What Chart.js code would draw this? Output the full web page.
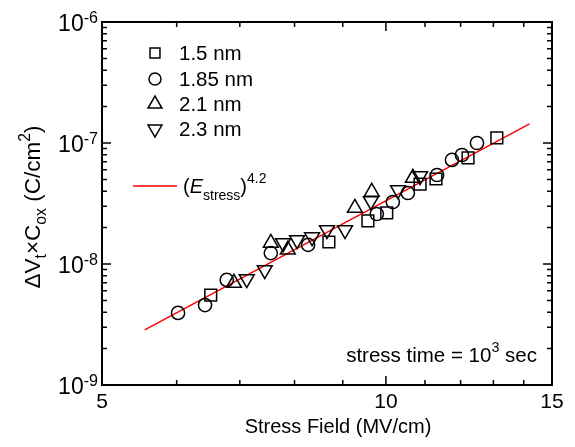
<!DOCTYPE html>
<html>
<head>
<meta charset="utf-8">
<script src="https://cdn.jsdelivr.net/npm/chart.js@4.4.0/dist/chart.umd.min.js"></script>
<style>
html, body { margin: 0; padding: 0; background: #fff; }
</style>
</head>
<body>
<canvas id="c" width="575" height="447"></canvas>
<script>
// --- data ---
const sqX = [6.52, 8.70, 9.57, 10.02, 10.87, 11.30, 12.22, 13.11];
const sqY = [5.54e-9, 1.52e-8, 2.27e-8, 2.64e-8, 4.58e-8, 5.04e-8, 7.52e-8, 1.10e-7];

const circX = [6.02, 6.43, 6.78, 7.55, 8.27, 9.78, 10.17, 10.55, 11.33, 11.75, 12.04, 12.49];
const circY = [3.94e-9, 4.58e-9, 7.38e-9, 1.23e-8, 1.44e-8, 2.59e-8, 3.25e-8, 3.86e-8, 5.44e-8, 7.24e-8, 7.96e-8, 1.0e-7];

const upX = [6.90, 7.55, 7.87, 9.27, 9.66, 10.68];
const upY = [6.97e-9, 1.49e-8, 1.31e-8, 2.90e-8, 3.94e-8, 5.14e-8];

const downX = [7.12, 7.44, 7.78, 8.05, 8.35, 8.66, 9.05, 9.64, 10.30, 10.87];
const downY = [7.52e-9, 8.92e-9, 1.49e-8, 1.58e-8, 1.67e-8, 1.91e-8, 1.91e-8, 3.32e-8, 4.09e-8, 5.34e-8];

// fitted power law line (end points)
const fitX = [5.55, 14.2];
const fitY = [2.85e-9, 1.44e-7];

const seriesNames = ['1.5 nm', '1.85 nm', '2.1 nm', '2.3 nm'];

// axes
const xTickValues = [5, 10, 15];
const xTickLabels = ['5', '10', '15'];
const xMinorTicks = [6, 7, 8, 9, 11, 12, 13, 14];
const yTickValues = [1e-9, 1e-8, 1e-7, 1e-6];
const yTickExps = ['-9', '-8', '-7', '-6'];

const FONT = '"Liberation Sans", Arial, Helvetica, sans-serif';
const toPts = (xs, ys) => xs.map((x, i) => ({ x: x, y: ys[i] }));

function font(size, italic) {
    return (italic ? 'italic ' : '') + size + 'px ' + FONT;
}

// parts: [text, style] with style '', 'i', 'sub', 'sup'
function partSize(s, size) {
    return (s === 'sub' || s === 'sup') ? size * 0.7 : size;
}
function measureRich(ctx, parts, size) {
    let w = 0;
    parts.forEach(([t, s]) => {
        ctx.font = font(partSize(s, size), s === 'i');
        w += ctx.measureText(t).width;
    });
    return w;
}
function drawRich(ctx, parts, x, y, size, align, supDy, subDy) {
    const w = measureRich(ctx, parts, size);
    let cx = align === 'center' ? x - w / 2 : (align === 'right' ? x - w : x);
    ctx.textAlign = 'left';
    ctx.textBaseline = 'alphabetic';
    parts.forEach(([t, s]) => {
        ctx.font = font(partSize(s, size), s === 'i');
        let dy = 0;
        if (s === 'sub') dy = subDy !== undefined ? subDy : size * 0.32;
        if (s === 'sup') dy = supDy !== undefined ? supDy : -size * 0.42;
        ctx.fillText(t, cx, y + dy);
        cx += ctx.measureText(t).width;
    });
}

const markerStyles = [
    { pointStyle: 'rect', radius: 8.3, rotation: 0, legendR: 7 },
    { pointStyle: 'circle', radius: 6.6, rotation: 0, legendR: 6 },
    { pointStyle: 'triangle', radius: 8.6, rotation: 0, legendR: 8 },
    { pointStyle: 'triangle', radius: 8.6, rotation: 180, legendR: 8 }
];

function markerSet(label, pts, st) {
    return {
        type: 'scatter',
        label: label,
        data: pts,
        pointStyle: st.pointStyle,
        pointRadius: st.radius,
        pointRotation: st.rotation,
        pointBorderColor: '#000',
        pointBackgroundColor: 'rgba(0,0,0,0)',
        pointBorderWidth: 1.5,
        showLine: false
    };
}

// frame, inward ticks, labels, legend, notes
const decorPlugin = {
    id: 'decor',
    afterDraw(chart) {
        const ctx = chart.ctx;
        const a = chart.chartArea;
        const xs = chart.scales.x, ys = chart.scales.y;
        ctx.save();
        ctx.strokeStyle = '#000';
        ctx.fillStyle = '#000';

        // frame
        ctx.lineWidth = 2;
        ctx.strokeRect(a.left, a.top, a.right - a.left, a.bottom - a.top);

        // x ticks (bottom + top)
        ctx.lineWidth = 1.5;
        const xTick = (v, len) => {
            const px = xs.getPixelForValue(v);
            ctx.beginPath();
            ctx.moveTo(px, a.bottom); ctx.lineTo(px, a.bottom - len);
            ctx.moveTo(px, a.top); ctx.lineTo(px, a.top + len);
            ctx.stroke();
        };
        xMinorTicks.forEach(v => xTick(v, 5));
        xTickValues.forEach(v => xTick(v, 9));

        // y ticks (left + right)
        const yTick = (v, len) => {
            const py = ys.getPixelForValue(v);
            ctx.beginPath();
            ctx.moveTo(a.left, py); ctx.lineTo(a.left + len, py);
            ctx.moveTo(a.right, py); ctx.lineTo(a.right - len, py);
            ctx.stroke();
        };
        yTickValues.forEach((v, i) => {
            yTick(v, 9);
            if (i < yTickValues.length - 1) {
                for (let m = 2; m <= 9; m++) yTick(v * m, 5);
            }
        });

        // x tick labels
        ctx.font = font(21);
        ctx.textAlign = 'center';
        ctx.textBaseline = 'middle';
        xTickValues.forEach((v, i) => {
            ctx.fillText(xTickLabels[i], xs.getPixelForValue(v), a.bottom + 17);
        });

        // y tick labels
        yTickValues.forEach((v, i) => {
            const py = ys.getPixelForValue(v);
            drawRich(ctx, [['10', ''], [yTickExps[i], 'sup']], a.left - 4, py + 9, 23, 'right', -8);
        });

        // axis titles
        ctx.font = font(20);
        ctx.textAlign = 'center';
        ctx.textBaseline = 'middle';
        ctx.fillText('Stress Field (MV/cm)', 338, 427);

        ctx.save();
        ctx.translate(33, 207);
        ctx.rotate(-Math.PI / 2);
        drawRich(ctx, [['\u0394V', ''], ['t', 'sub'], ['\u00d7C', ''], ['ox', 'sub'], [' (C/cm', ''], ['2', 'sup'], [')', '']],
            0, 7, 22.5, 'center', -10, 6);
        ctx.restore();

        // legend: markers
        const lx = a.left + 53;
        const rows = [53, 79, 104, 129];
        chart.data.datasets.slice(0, 4).forEach((ds, i) => {
            const st = markerStyles[i];
            ctx.lineWidth = 1.5;
            ctx.strokeStyle = '#000';
            ctx.fillStyle = 'rgba(0,0,0,0)';
            Chart.helpers.drawPoint(ctx, {
                pointStyle: st.pointStyle, radius: st.legendR, rotation: st.rotation, borderWidth: 1.5
            }, lx, rows[i]);
            ctx.fillStyle = '#000';
            ctx.font = font(20.5);
            ctx.textAlign = 'left';
            ctx.textBaseline = 'middle';
            ctx.fillText(ds.label, a.left + 77, rows[i] + 1);
        });

        // legend: fit line
        ctx.strokeStyle = '#ff0000';
        ctx.lineWidth = 1.5;
        ctx.beginPath();
        ctx.moveTo(a.left + 31, 186);
        ctx.lineTo(a.left + 75, 186);
        ctx.stroke();
        ctx.fillStyle = '#000';
        drawRich(ctx, [['(', ''], ['E', 'i'], ['stress', 'sub'], [')', ''], ['4.2', 'sup']],
            a.left + 81, 193, 20, 'left', -10, 7);

        // stress time note
        drawRich(ctx, [['stress time = 10', ''], ['3', 'sup'], [' sec', '']],
            a.right - 15, 362, 20.5, 'right', -10);

        ctx.restore();
    }
};

new Chart(document.getElementById('c'), {
    data: {
        datasets: [
            markerSet(seriesNames[0], toPts(sqX, sqY), markerStyles[0]),
            markerSet(seriesNames[1], toPts(circX, circY), markerStyles[1]),
            markerSet(seriesNames[2], toPts(upX, upY), markerStyles[2]),
            markerSet(seriesNames[3], toPts(downX, downY), markerStyles[3]),
            {
                type: 'line',
                label: 'fit',
                data: toPts(fitX, fitY),
                borderColor: '#ff0000',
                borderWidth: 1.5,
                pointRadius: 0,
                fill: false,
                tension: 0
            }
        ]
    },
    options: {
        responsive: false,
        animation: false,
        devicePixelRatio: 1,
        layout: { autoPadding: false, padding: { left: 102, right: 23, top: 22, bottom: 62 } },
        plugins: { legend: { display: false }, tooltip: { enabled: false } },
        scales: {
            x: {
                type: 'logarithmic', min: 5, max: 15,
                grid: { display: false }, border: { display: false },
                ticks: { display: false },
                afterFit: s => { s.height = 0; }
            },
            y: {
                type: 'logarithmic', min: 1e-9, max: 1e-6,
                grid: { display: false }, border: { display: false },
                ticks: { display: false },
                afterFit: s => { s.width = 0; }
            }
        }
    },
    plugins: [decorPlugin]
});
</script>
</body>
</html>
